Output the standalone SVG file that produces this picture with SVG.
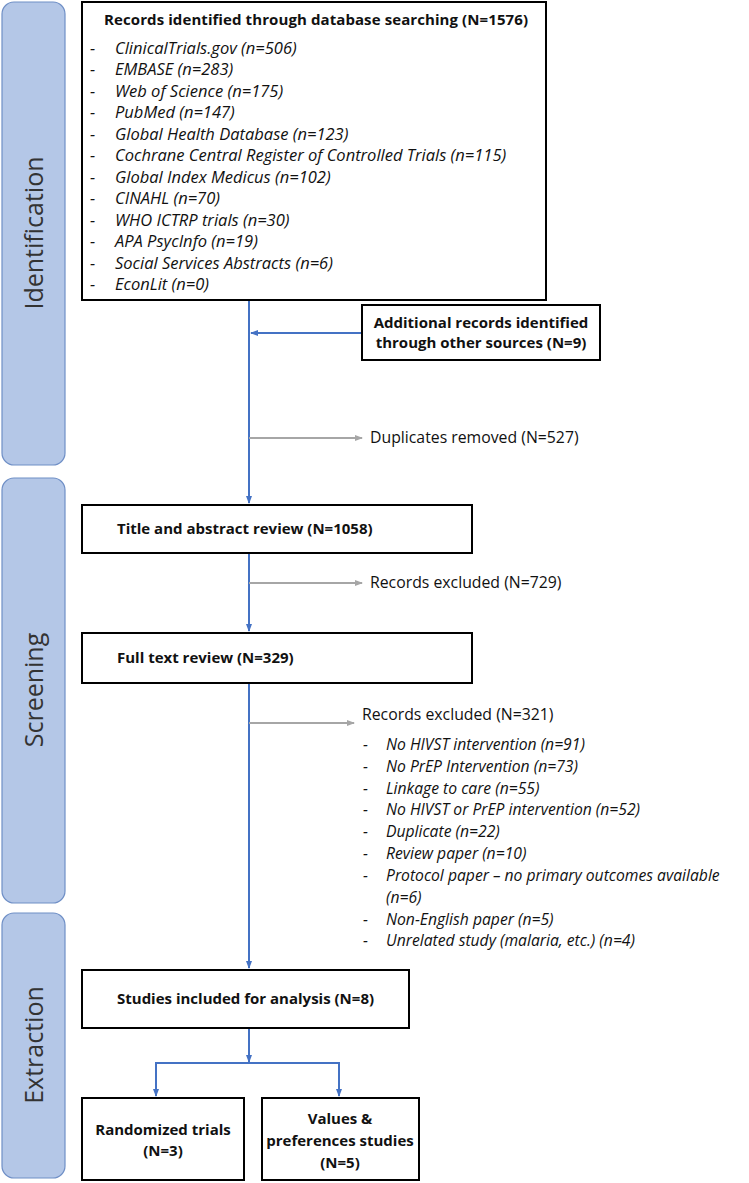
<svg xmlns="http://www.w3.org/2000/svg" width="749" height="1183" viewBox="0 0 749 1183">
<style>
.side{fill:#b4c7e7;stroke:#6f8fc6;stroke-width:1.2}
.box{fill:#fff;stroke:#000;stroke-width:2}
text{font-family:"Open Sans","Liberation Sans",sans-serif;fill:#111}
.b{font-weight:bold;font-size:15px}
.i{font-style:italic;font-size:16.5px}
.i2{font-style:italic;font-size:15.7px}
.n{font-size:15.8px}
.st{font-size:25px;fill:#333}
.blue{stroke:#4472c4;stroke-width:2;fill:none}
.grey{stroke:#a6a6a6;stroke-width:2;fill:none}
</style>
<defs>
<marker id="ab" markerWidth="8" markerHeight="8" refX="7" refY="4" orient="auto" markerUnits="userSpaceOnUse"><path d="M0,1 L8,4 L0,7Z" fill="#4472c4"/></marker>
<marker id="ag" markerWidth="8" markerHeight="8" refX="7" refY="4" orient="auto" markerUnits="userSpaceOnUse"><path d="M0,1 L8,4 L0,7Z" fill="#a6a6a6"/></marker>
</defs>
<g id="stage-identification"><rect class="side" x="2" y="2" width="63" height="463" rx="12"/><text class="st" transform="translate(43,233) rotate(-90)" text-anchor="middle">Identification</text></g>
<g id="stage-screening"><rect class="side" x="2" y="478" width="63" height="425" rx="12"/><text class="st" transform="translate(43,690) rotate(-90)" text-anchor="middle">Screening</text></g>
<g id="stage-extraction"><rect class="side" x="2" y="913" width="63" height="265" rx="12"/><text class="st" transform="translate(43,1045) rotate(-90)" text-anchor="middle">Extraction</text></g>
<g id="connectors">
<path class="blue" d="M249,300 V503" marker-end="url(#ab)"/>
<path class="blue" d="M362,333 H251" marker-end="url(#ab)"/>
<path class="grey" d="M249,438 H362" marker-end="url(#ag)"/>
<path class="blue" d="M249,553 V631" marker-end="url(#ab)"/>
<path class="grey" d="M249,583 H362" marker-end="url(#ag)"/>
<path class="blue" d="M249,683 V968" marker-end="url(#ab)"/>
<path class="grey" d="M249,723 H354" marker-end="url(#ag)"/>
<path class="blue" d="M249,1028 V1062" marker-end="url(#ab)"/>
<path class="blue" d="M156,1096 V1063 H339 V1096" marker-end="url(#ab)"/>
<path class="blue" d="M156,1063 V1096" marker-end="url(#ab)"/>
</g>
<g id="records-db"><rect class="box" x="82" y="2" width="464" height="298"/>
<text class="b" x="104" y="25" textLength="424">Records identified through database searching (N=1576)</text>
<g class="i">
<text x="90" y="54">-</text><text x="115" y="54">ClinicalTrials.gov (n=506)</text>
<text x="90" y="75">-</text><text x="115" y="75">EMBASE (n=283)</text>
<text x="90" y="96.5">-</text><text x="115" y="96.5">Web of Science (n=175)</text>
<text x="90" y="118">-</text><text x="115" y="118">PubMed (n=147)</text>
<text x="90" y="139.5">-</text><text x="115" y="139.5">Global Health Database (n=123)</text>
<text x="90" y="161">-</text><text x="115" y="161">Cochrane Central Register of Controlled Trials (n=115)</text>
<text x="90" y="182.5">-</text><text x="115" y="182.5">Global Index Medicus (n=102)</text>
<text x="90" y="204">-</text><text x="115" y="204">CINAHL (n=70)</text>
<text x="90" y="225.5">-</text><text x="115" y="225.5">WHO ICTRP trials (n=30)</text>
<text x="90" y="247">-</text><text x="115" y="247">APA PsycInfo (n=19)</text>
<text x="90" y="268.5">-</text><text x="115" y="268.5">Social Services Abstracts (n=6)</text>
<text x="90" y="290">-</text><text x="115" y="290">EconLit (n=0)</text>
</g></g>
<g id="additional"><rect class="box" x="362" y="305" width="238" height="55"/>
<text class="b" text-anchor="middle" x="481" y="328">Additional records identified</text>
<text class="b" text-anchor="middle" x="481" y="348">through other sources (N=9)</text></g>
<g id="duplicates"><text class="n" x="370" y="443">Duplicates removed (N=527)</text></g>
<g id="title-review"><rect class="box" x="82" y="505" width="390" height="48"/><text class="b" x="117" y="534">Title and abstract review (N=1058)</text></g>
<g id="excluded1"><text class="n" x="370" y="588">Records excluded (N=729)</text></g>
<g id="fulltext"><rect class="box" x="82" y="633" width="390" height="50"/><text class="b" x="117" y="663">Full text review (N=329)</text></g>
<g id="excluded2"><text class="n" x="362" y="720">Records excluded (N=321)</text>
<g class="i2">
<text x="363" y="750">-</text><text x="386" y="750">No HIVST intervention (n=91)</text>
<text x="363" y="772">-</text><text x="386" y="772">No PrEP Intervention (n=73)</text>
<text x="363" y="794">-</text><text x="386" y="794">Linkage to care (n=55)</text>
<text x="363" y="815">-</text><text x="386" y="815">No HIVST or PrEP intervention (n=52)</text>
<text x="363" y="837">-</text><text x="386" y="837">Duplicate (n=22)</text>
<text x="363" y="859">-</text><text x="386" y="859">Review paper (n=10)</text>
<text x="363" y="881">-</text><text x="386" y="881">Protocol paper – no primary outcomes available</text>
<text x="386" y="903">(n=6)</text>
<text x="363" y="925">-</text><text x="386" y="925">Non-English paper (n=5)</text>
<text x="363" y="946">-</text><text x="386" y="946">Unrelated study (malaria, etc.) (n=4)</text>
</g></g>
<g id="included"><rect class="box" x="82" y="970" width="327" height="58"/><text class="b" x="117" y="1004">Studies included for analysis (N=8)</text></g>
<g id="rct"><rect class="box" x="82" y="1098" width="162" height="82"/>
<text class="b" text-anchor="middle" x="163" y="1135">Randomized trials</text><text class="b" text-anchor="middle" x="163" y="1156">(N=3)</text></g>
<g id="values"><rect class="box" x="262" y="1098" width="157" height="82"/>
<text class="b" text-anchor="middle" x="340" y="1124">Values &amp;</text><text class="b" text-anchor="middle" x="340" y="1146">preferences studies</text><text class="b" text-anchor="middle" x="340" y="1168">(N=5)</text></g>
</svg>
